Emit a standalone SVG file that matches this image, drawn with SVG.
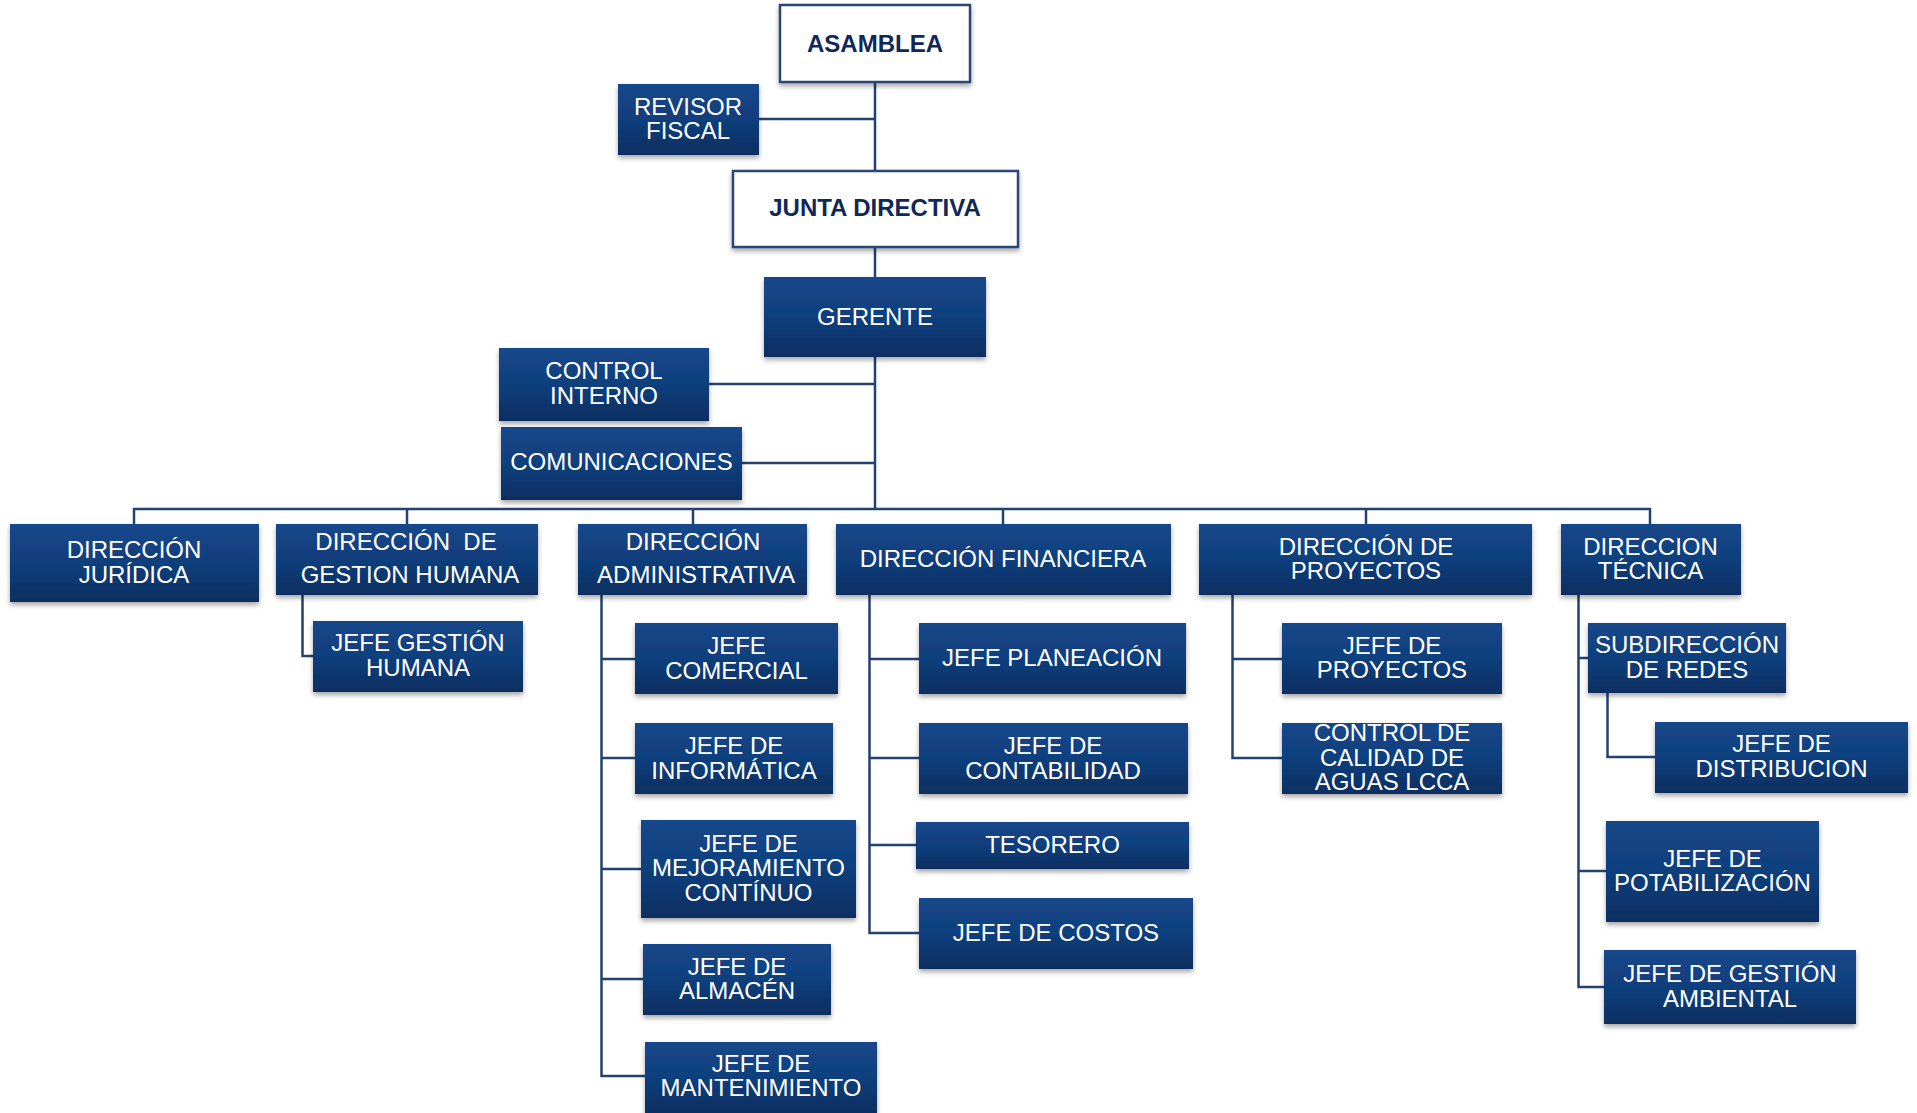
<svg xmlns="http://www.w3.org/2000/svg" width="1917" height="1113" viewBox="0 0 1917 1113">
<style>
.b{fill:url(#g);filter:url(#sh)}
.w{fill:#fff;stroke:#2b4674;stroke-width:2.5;filter:url(#sh)}
.t{font-family:"Liberation Sans",Arial,sans-serif;font-size:24px;fill:#fff;text-anchor:middle}
.tb{font-family:"Liberation Sans",Arial,sans-serif;font-size:24px;font-weight:bold;fill:#10275a;text-anchor:middle}
.c{fill:none;stroke:#23426f;stroke-width:2.5}
</style>
<defs>
<linearGradient id="g" x1="0" y1="0" x2="0" y2="1">
<stop offset="0" stop-color="#13478b"/>
<stop offset="0.5" stop-color="#113f7c"/>
<stop offset="1" stop-color="#0b2e61"/>
</linearGradient>
<filter id="sh" x="-10%" y="-10%" width="120%" height="130%">
<feDropShadow dx="0" dy="3" stdDeviation="2.5" flood-color="#000" flood-opacity="0.35"/>
</filter>
</defs>
<g id="connectors">
<path class="c" d="M875 82V171M759 119H875M875 247V277M875 357V509M709 384H875M742 463H875"/>
<path class="c" d="M134 524V509H1650V524M407 509V524M693 509V524M1003 509V524M1366 509V524"/>
<path class="c" d="M302.5 595V656H313"/>
<path class="c" d="M601.5 595V1076H645M601.5 659H635M601.5 758H635M601.5 869H641M601.5 979H643"/>
<path class="c" d="M869.5 595V933H919M869.5 659H919M869.5 758H919M869.5 845H916"/>
<path class="c" d="M1232.5 595V758H1282M1232.5 659H1282"/>
<path class="c" d="M1578.5 595V987H1604M1578.5 658H1588M1578.5 871H1606"/>
<path class="c" d="M1607.5 693V757H1655"/>
</g>
<g id="asamblea"><rect class="w" x="780" y="5" width="190" height="77"/><text class="tb" x="875" y="52">ASAMBLEA</text></g>
<g id="revisor"><rect class="b" x="618" y="84" width="141" height="71"/><text class="t" x="688" y="115">REVISOR</text><text class="t" x="688" y="139">FISCAL</text></g>
<g id="junta"><rect class="w" x="733" y="171" width="285" height="76"/><text class="tb" x="875" y="216">JUNTA DIRECTIVA</text></g>
<g id="gerente"><rect class="b" x="764" y="277" width="222" height="80"/><text class="t" x="875" y="325">GERENTE</text></g>
<g id="control"><rect class="b" x="499" y="348" width="210" height="73"/><text class="t" x="604" y="379">CONTROL</text><text class="t" x="604" y="404">INTERNO</text></g>
<g id="comunicaciones"><rect class="b" x="501" y="427" width="241" height="73"/><text class="t" x="621.5" y="470">COMUNICACIONES</text></g>
<g id="juridica"><rect class="b" x="10" y="524" width="249" height="78"/><text class="t" x="134" y="558">DIRECCIÓN</text><text class="t" x="134" y="583">JURÍDICA</text></g>
<g id="gestion-humana"><rect class="b" x="276" y="524" width="262" height="71"/><text class="t" x="406" y="550" xml:space="preserve">DIRECCIÓN  DE</text><text class="t" x="410" y="583">GESTION HUMANA</text></g>
<g id="jefe-gestion-humana"><rect class="b" x="313" y="621" width="210" height="71"/><text class="t" x="418" y="651">JEFE GESTIÓN</text><text class="t" x="418" y="676">HUMANA</text></g>
<g id="administrativa"><rect class="b" x="578" y="524" width="229" height="71"/><text class="t" x="693" y="550">DIRECCIÓN</text><text class="t" x="696" y="583">ADMINISTRATIVA</text></g>
<g id="financiera"><rect class="b" x="836" y="524" width="335" height="71"/><text class="t" x="1003" y="567">DIRECCIÓN FINANCIERA</text></g>
<g id="proyectos"><rect class="b" x="1199" y="524" width="333" height="71"/><text class="t" x="1366" y="555">DIRECCIÓN DE</text><text class="t" x="1366" y="579">PROYECTOS</text></g>
<g id="tecnica"><rect class="b" x="1561" y="524" width="180" height="71"/><text class="t" x="1650.5" y="555">DIRECCION</text><text class="t" x="1650.5" y="579">TÉCNICA</text></g>
<g id="comercial"><rect class="b" x="635" y="623" width="203" height="71"/><text class="t" x="736.5" y="654">JEFE</text><text class="t" x="736.5" y="679">COMERCIAL</text></g>
<g id="informatica"><rect class="b" x="635" y="723" width="198" height="71"/><text class="t" x="734" y="754">JEFE DE</text><text class="t" x="734" y="779">INFORMÁTICA</text></g>
<g id="mejoramiento"><rect class="b" x="641" y="820" width="215" height="98"/><text class="t" x="748.5" y="852">JEFE DE</text><text class="t" x="748.5" y="876">MEJORAMIENTO</text><text class="t" x="748.5" y="901">CONTÍNUO</text></g>
<g id="almacen"><rect class="b" x="643" y="944" width="188" height="71"/><text class="t" x="737" y="975">JEFE DE</text><text class="t" x="737" y="999">ALMACÉN</text></g>
<g id="mantenimiento"><rect class="b" x="645" y="1042" width="232" height="71"/><text class="t" x="761" y="1072">JEFE DE</text><text class="t" x="761" y="1096">MANTENIMIENTO</text></g>
<g id="planeacion"><rect class="b" x="919" y="623" width="267" height="71"/><text class="t" x="1052" y="666">JEFE PLANEACIÓN</text></g>
<g id="contabilidad"><rect class="b" x="919" y="723" width="269" height="71"/><text class="t" x="1053" y="754">JEFE DE</text><text class="t" x="1053" y="779">CONTABILIDAD</text></g>
<g id="tesorero"><rect class="b" x="916" y="822" width="273" height="47"/><text class="t" x="1052.5" y="853">TESORERO</text></g>
<g id="costos"><rect class="b" x="919" y="898" width="274" height="71"/><text class="t" x="1056" y="941">JEFE DE COSTOS</text></g>
<g id="jefe-proyectos"><rect class="b" x="1282" y="623" width="220" height="71"/><text class="t" x="1392" y="654">JEFE DE</text><text class="t" x="1392" y="678">PROYECTOS</text></g>
<g id="calidad"><rect class="b" x="1282" y="723" width="220" height="71"/><text class="t" x="1392" y="741">CONTROL DE</text><text class="t" x="1392" y="766">CALIDAD DE</text><text class="t" x="1392" y="790">AGUAS LCCA</text></g>
<g id="redes"><rect class="b" x="1588" y="623" width="198" height="70"/><text class="t" x="1687" y="653">SUBDIRECCIÓN</text><text class="t" x="1687" y="678">DE REDES</text></g>
<g id="distribucion"><rect class="b" x="1655" y="722" width="253" height="71"/><text class="t" x="1781.5" y="752">JEFE DE</text><text class="t" x="1781.5" y="777">DISTRIBUCION</text></g>
<g id="potabilizacion"><rect class="b" x="1606" y="821" width="213" height="101"/><text class="t" x="1712.5" y="867">JEFE DE</text><text class="t" x="1712.5" y="891">POTABILIZACIÓN</text></g>
<g id="ambiental"><rect class="b" x="1604" y="950" width="252" height="74"/><text class="t" x="1730" y="982">JEFE DE GESTIÓN</text><text class="t" x="1730" y="1007">AMBIENTAL</text></g>
</svg>
